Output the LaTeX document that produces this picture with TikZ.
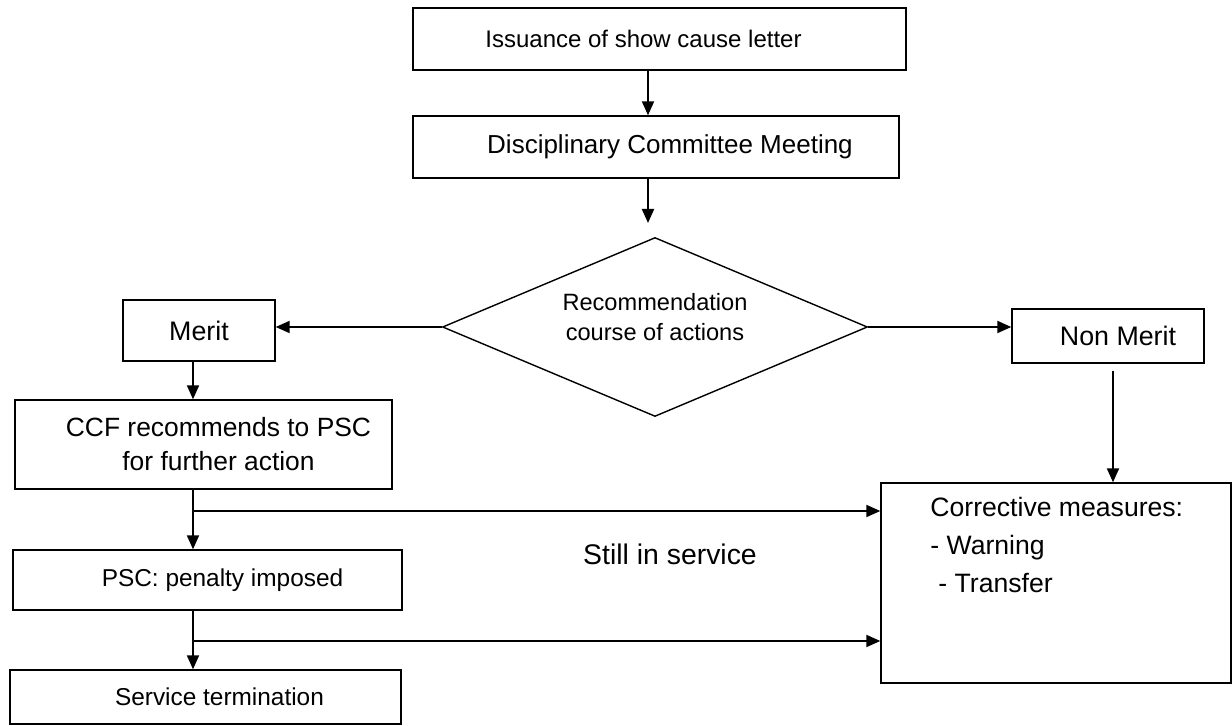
\documentclass[tikz,border=0pt]{standalone}
\usepackage{fontspec}
\setmainfont{Liberation Sans}
\usetikzlibrary{arrows.meta,shapes.geometric,calc}
\begin{document}
\begin{tikzpicture}[x=0.5pt,y=-0.5pt,
 box/.style={draw,line width=0.7pt,rectangle,inner sep=0pt,font=\fontsize{11.8}{15}\selectfont},
 arr/.style={line width=1pt,-{Triangle[length=7pt,width=6pt]}},
 lbl/.style={font=\fontsize{11.8}{15}\selectfont,inner sep=0pt}]
\useasboundingbox (0,0) rectangle (1232,726);
\node[box,minimum width=246.5pt,minimum height=31pt,font=\fontsize{12}{15}\selectfont] (b1) at (659.5,39) {Issuance of show cause letter\kern16pt};
\node[box,minimum width=243pt,minimum height=31pt,font=\fontsize{13}{15}\selectfont] (b2) at (656,147) {\kern14pt Disciplinary Committee Meeting};
\node[draw,diamond,line width=0.7pt,minimum width=212.5pt,minimum height=89.5pt,inner sep=0pt,aspect=2.37] (dia) at (655,327) {};
\node[lbl,align=center] (diat) at (655,317) {Recommendation\\course of actions};
\node[box,minimum width=76pt,minimum height=30.5pt,font=\fontsize{13.4}{15}\selectfont] (mer) at (199,330.5) {Merit};
\node[box,minimum width=96pt,minimum height=27pt,font=\fontsize{13.4}{15}\selectfont] (nm) at (1108,336) {\kern10pt Non Merit};
\node[box,minimum width=188.5pt,minimum height=44.5pt,align=center,font=\fontsize{13.2}{17}\selectfont] (ccf) at (203.5,444.5) {\kern15pt CCF recommends to PSC\\\kern15pt for further action};
\node[box,minimum width=194.5pt,minimum height=30pt,font=\fontsize{12.2}{15}\selectfont] (psc) at (207.5,580) {\kern15pt PSC: penalty imposed};
\node[box,minimum width=195.5pt,minimum height=27pt,font=\fontsize{12.2}{15}\selectfont] (serv) at (205.5,697) {\kern14pt Service termination};
\node[box,minimum width=175pt,minimum height=100pt] (cor) at (1056,583) {};
\node[lbl,anchor=north west,align=left,font=\fontsize{13.3}{19}\selectfont] (cort) at (930,497) {Corrective measures:\\- Warning\\\kern4pt - Transfer};
\node[lbl,font=\fontsize{14.2}{16}\selectfont] (still) at (670,554) {Still in service};
\coordinate (ax) at (648,0);
\coordinate (d1) at (648,223);
\draw[arr] (b1.south -| ax) -- (b2.north -| ax);
\draw[arr] (b2.south -| ax) -- (d1);
\draw[arr] (dia.west) -- (dia.west -| mer.east);
\draw[arr] (dia.east) -- (dia.east -| nm.west);
\coordinate (vx) at (193,0);
\draw[arr] (mer.south -| vx) -- (ccf.north -| vx);
\draw[arr] (ccf.south -| vx) -- (psc.north -| vx);
\draw[arr] (psc.south -| vx) -- (serv.north -| vx);
\coordinate (j1) at (193,511);
\coordinate (j2) at (193,641);
\draw[arr] (j1) -- (j1 -| cor.west);
\draw[arr] (j2) -- (j2 -| cor.west);
\coordinate (nx) at (1113,0);
\draw[arr] ($(nm.south -| nx)+(0,7)$) -- (cor.north -| nx);
\end{tikzpicture}
\end{document}
